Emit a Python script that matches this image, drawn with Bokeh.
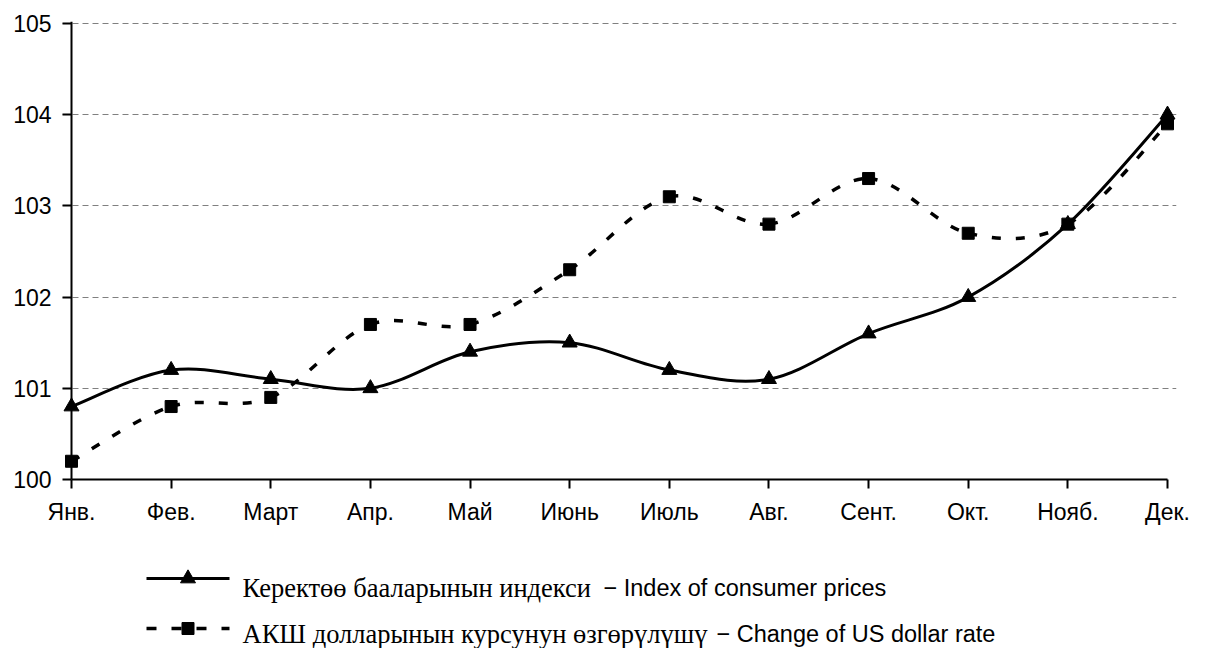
import numpy as np
from bokeh.plotting import figure
from bokeh.models import Range1d, FixedTicker, ColumnDataSource, Span
from bokeh.layouts import column
from bokeh.core.properties import value
from bokeh.embed import file_html
from bokeh.resources import INLINE

months = ["Янв.", "Фев.", "Март", "Апр.", "Май", "Июнь", "Июль", "Авг.", "Сент.", "Окт.", "Нояб.", "Дек."]
cpi = [100.8, 101.2, 101.1, 101.0, 101.4, 101.5, 101.2, 101.1, 101.6, 102.0, 102.8, 104.0]
usd = [100.2, 100.8, 100.9, 101.7, 101.7, 102.3, 103.1, 102.8, 103.3, 102.7, 102.8, 103.9]
y_ticks = [100, 101, 102, 103, 104, 105]
legend_kg = ["Керектөө бааларынын индекси", "АКШ долларынын курсунун өзгөрүлүшү"]
legend_en = ["− Index of consumer prices", "− Change of US dollar rate"]

SANS = "Liberation Sans"
SERIF = "Liberation Serif"

# layout geometry (pixels)
W, H_MAIN, H_LEG = 1192, 540, 108
AX_L, AX_R = 71, 1167          # pixel of first / last category
PAD = 9                        # frame padding so end markers are not clipped
F_TOP, F_BOT = 21, 479         # frame top / bottom
Y_TOP_PX = 23                  # pixel of y = 105
F_L, F_R = AX_L - PAD, AX_R + PAD

n = len(months)
ppx = (AX_R - AX_L) / (n - 1)
ppy = (F_BOT - Y_TOP_PX) / (y_ticks[-1] - y_ticks[0])


def bezier_source(vals):
    x = np.arange(len(vals), dtype=float)
    y = np.array(vals, dtype=float)
    m = len(vals)
    d = dict(x0=[], y0=[], x1=[], y1=[], cx0=[], cy0=[], cx1=[], cy1=[])
    for i in range(m - 1):
        a = i - 1 if i > 0 else i
        b = i + 2 if i + 2 < m else i + 1
        d["x0"].append(x[i]); d["y0"].append(y[i])
        d["x1"].append(x[i + 1]); d["y1"].append(y[i + 1])
        d["cx0"].append(x[i] + (x[i + 1] - x[a]) / 6.0)
        d["cy0"].append(y[i] + (y[i + 1] - y[a]) / 6.0)
        d["cx1"].append(x[i + 1] - (x[b] - x[i]) / 6.0)
        d["cy1"].append(y[i + 1] - (y[b] - y[i]) / 6.0)
    return ColumnDataSource(d)


x_start = -PAD / ppx
x_end = (n - 1) + PAD / ppx
y_end = y_ticks[0] + (F_BOT - F_TOP) / ppy

p = figure(width=W, height=H_MAIN, output_backend="svg", toolbar_location=None,
           x_range=Range1d(x_start, x_end), y_range=Range1d(y_ticks[0], y_end),
           min_border_left=F_L, min_border_right=W - F_R,
           min_border_top=F_TOP, min_border_bottom=H_MAIN - F_BOT)
p.outline_line_color = None
p.background_fill_color = "white"
p.border_fill_color = "white"

p.xgrid.grid_line_color = None
p.ygrid.ticker = FixedTicker(ticks=y_ticks)
p.ygrid.grid_line_color = "#808080"
p.ygrid.grid_line_dash = "6 4"
p.ygrid.grid_line_width = 1

p.xaxis.ticker = FixedTicker(ticks=list(range(n)))
p.xaxis.major_label_overrides = {i: m for i, m in enumerate(months)}
p.xaxis.bounds = (0, n - 1)
p.yaxis.ticker = FixedTicker(ticks=y_ticks)
for ax in (p.xaxis, p.yaxis):
    ax.axis_line_color = "black"
    ax.axis_line_width = 2
    ax.major_tick_line_color = "black"
    ax.major_tick_line_width = 2
    ax.minor_tick_line_color = None
    ax.major_label_text_font = SANS
    ax.major_label_text_font_size = "23px"
    ax.major_label_text_color = "black"
p.xaxis.major_tick_in = 0
p.xaxis.major_tick_out = 9
p.xaxis.major_label_standoff = 10
# y axis line drawn at the first category; ticks reach from frame edge to it
p.yaxis.axis_line_color = None
p.yaxis.major_tick_in = PAD
p.yaxis.major_tick_out = 0
p.yaxis.major_label_standoff = 11
p.add_layout(Span(location=0, dimension="height", line_color="black", line_width=2))

xs = list(range(n))
src_c = bezier_source(cpi)
src_u = bezier_source(usd)
p.bezier(x0="x0", y0="y0", x1="x1", y1="y1", cx0="cx0", cy0="cy0", cx1="cx1", cy1="cy1",
         source=src_c, line_color="black", line_width=3)
p.bezier(x0="x0", y0="y0", x1="x1", y1="y1", cx0="cx0", cy0="cy0", cx1="cx1", cy1="cy1",
         source=src_u, line_color="black", line_width=3.5, line_dash="9 15")
p.scatter(xs, usd, marker="square", size=12, color="black")
p.scatter(xs, cpi, marker="triangle", size=15, color="black")

# legend figure: its frame is aligned with the main frame, so the ranges are
# set so that data coordinates equal picture pixels
lg = figure(width=W, height=H_LEG, output_backend="svg", toolbar_location=None,
            x_range=Range1d(F_L, F_R), y_range=Range1d(H_MAIN + H_LEG, H_MAIN),
            x_axis_location=None, y_axis_location=None,
            min_border_left=F_L, min_border_right=W - F_R, min_border_top=0, min_border_bottom=0)
lg.grid.visible = False
lg.outline_line_color = None
lg.background_fill_color = "white"
lg.border_fill_color = "white"

r1, r2 = 578, 628
b1, b2 = 587, 633
lg.line([146, 229], [r1, r1], line_color="black", line_width=3)
lg.scatter([187.5], [r1], marker="triangle", size=15, color="black")
lg.line([146, 229], [r2, r2], line_color="black", line_width=3.5, line_dash="10 15")
lg.scatter([187.5], [r2], marker="square", size=12, color="black")
lg.text([242, 242], [b1, b2], text=legend_kg, text_font=value(SERIF), text_font_size="26.5px",
        text_baseline="alphabetic", text_align="left", text_color="black")
lg.text([603, 716], [b1, b2], text=legend_en, text_font=value(SANS), text_font_size="23.5px",
        text_baseline="alphabetic", text_align="left", text_color="black")

layout = column(p, lg, spacing=0)
open("out.html", "w").write(file_html(layout, INLINE))
